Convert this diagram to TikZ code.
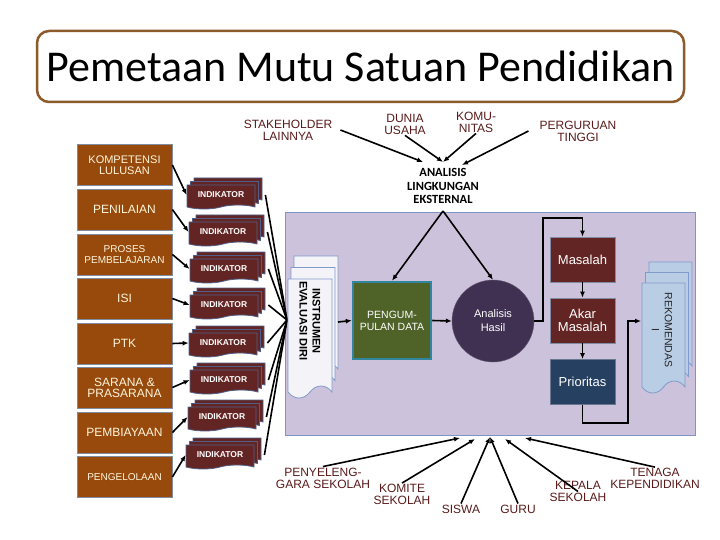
\documentclass[tikz,border=0pt]{standalone}
\usepackage{fontspec}
\setmainfont{Liberation Sans}
\newfontfamily\titlefont{Carlito}
\usetikzlibrary{arrows.meta,shapes.symbols,shadows}
\definecolor{mapbrown}{HTML}{8C5A2B}
\definecolor{stdbrown}{HTML}{974A0C}
\definecolor{stdedge}{HTML}{7F8CA3}
\definecolor{stdtext}{HTML}{FFF6DC}
\definecolor{indred}{HTML}{632523}
\definecolor{indedge}{HTML}{4F5F8A}
\definecolor{panelfill}{HTML}{CCC2DB}
\definecolor{paneledge}{HTML}{8094C4}
\definecolor{docfill}{HTML}{F3F3F8}
\definecolor{docedge}{HTML}{7F9ACB}
\definecolor{pdgreen}{HTML}{4F6228}
\definecolor{pdedge}{HTML}{31859C}
\definecolor{ahpurple}{HTML}{403152}
\definecolor{priblue}{HTML}{254061}
\definecolor{rekfill}{HTML}{B9CDE5}
\definecolor{labink}{HTML}{5A1A1A}

\tikzset{
  arr/.style={line width=1.6pt,-{Latex[length=6pt,width=5pt]}},
  fanline/.style={line width=1.6pt},
  stdbox/.style={draw=stdedge,line width=.8pt,fill=stdbrown,text=stdtext,
    minimum width=95pt,minimum height=41pt,inner sep=1pt,align=center},
  indbox/.style={shape=tape,tape bend top=none,tape bend bottom=in and out,
    tape bend height=4pt,draw=indedge,line width=.8pt,fill=indred,text=white,
    minimum width=68pt,minimum height=24pt,inner sep=1pt,
    font=\bfseries\fontsize{8.5}{8.5}\selectfont,
    double copy shadow={shadow xshift=3.5pt,shadow yshift=3.5pt}},
  docbox/.style={shape=tape,tape bend top=none,tape bend bottom=in and out,
    tape bend height=12pt,draw=docedge,line width=.8pt,inner sep=0pt},
  labtext/.style={text=labink,align=center,inner sep=1pt,
    font=\fontsize{12}{12}\selectfont},
  stepbox/.style={draw=stdedge,line width=.6pt,text=white,minimum width=65pt,
    minimum height=45pt,inner sep=1pt,align=center,
    font=\fontsize{13}{12.5}\selectfont}
}

\begin{document}
\begin{tikzpicture}[x=1pt,y=-1pt]
  \useasboundingbox (0,0) rectangle (720,540);
  % title
  \node[draw=mapbrown,line width=2.5pt,rounded corners=12pt,fill=white,
    minimum width=647pt,minimum height=71pt,
    font=\titlefont\fontsize{44}{44}\selectfont] (title) at (360.5,66.5)
    {Pemetaan Mutu Satuan Pendidikan};
  % panel
  \draw[draw=paneledge,fill=panelfill,line width=.8pt] (285,212) rectangle (695,435);
  % standards and indicators
  \foreach \i/\yy/\fs/\txt in {1/165/11/{KOMPETENSI\\LULUSAN},2/209.5/12/PENILAIAN,
      3/254.5/10/{PROSES\\PEMBELAJARAN},4/298.5/12/ISI,5/343.5/12/PTK,
      6/387.5/12/{SARANA \&\\PRASARANA},7/432.5/12/PEMBIAYAAN,8/477/10/PENGELOLAAN}
    \node[stdbox,font=\fontsize{\fs}{11}\selectfont] (std\i) at (124.5,\yy) {\txt};
  \foreach \i/\xx/\yy in {1/221/195,2/223/232,3/224/269,4/224/305,
      5/223/343,6/224/380,7/222/417,8/220/455}
    \node[indbox] (ind\i) at (\xx,\yy) {INDIKATOR};
  \coordinate (fan) at (287,320);
  \foreach \i in {1,...,8} {
    \draw[arr] (std\i.east) -- (ind\i.west);
    \draw[fanline] ([xshift=10pt]ind\i.east) -- (fan);
  }
  % instrument
  \node[docbox,fill=docfill,minimum width=44pt,minimum height=119pt,
    double copy shadow={shadow xshift=3pt,shadow yshift=11.5pt}] (instr) at (310,332.5) {};
  \node[rotate=-90,align=center,inner sep=0pt,
    font=\bfseries\fontsize{11}{13}\selectfont] (instrtext) at (310,321)
    {INSTRUMEN\\EVALUASI DIRI};
  \coordinate (insOut) at (338,322);
  % analysis chain
  \node[draw=pdedge,line width=2.5pt,fill=pdgreen,text=white,minimum width=78pt,
    minimum height=77pt,align=center,font=\fontsize{10.5}{12}\selectfont] (pd) at (392,320.5)
    {PENGUM-\\PULAN DATA};
  \node[circle,fill=ahpurple,draw=ahpurple!80!white,minimum size=82pt,inner sep=0pt,
    text=white,align=center,font=\fontsize{11}{14}\selectfont] (ah) at (493,321)
    {Analisis\\Hasil};
  \node[stepbox,fill=indred] (mas) at (582.5,259.5) {Masalah};
  \node[stepbox,fill=indred] (akar) at (582.5,320.5) {Akar\\Masalah};
  \node[stepbox,fill=priblue,draw=priblue!70!white] (pri) at (582.5,382) {Prioritas};
  \node[docbox,fill=rekfill,minimum width=43pt,minimum height=110pt,
    double copy shadow={shadow xshift=3.5pt,shadow yshift=10.5pt}] (rek) at (663.5,332) {};
  \node[rotate=-90,align=center,inner sep=0pt,text=black!85,
    font=\fontsize{10.5}{13}\selectfont] (rektext) at (662,330) {REKOMENDAS\\I};
  \coordinate (loopUp) at (543,218);
  \coordinate (loopDown) at (628,423);
  \coordinate (rekIn) at (641,321);
  \draw[arr] (insOut) -- (pd.west);
  \draw[arr] (pd.east) -- (ah.west);
  \draw[arr,line width=1.4pt] (ah.east) -| (loopUp) -| (mas.north);
  \draw[arr,line width=1.4pt] (mas.south) -- (akar.north);
  \draw[arr,line width=1.4pt] (akar.south) -- (pri.north);
  \draw[arr,line width=1.4pt] (pri.south) |- (loopDown) |- (rekIn);
  % external environment
  \node[labtext] (stake) at (288,130) {STAKEHOLDER\\LAINNYA};
  \node[labtext] (dunia) at (405,124) {DUNIA\\USAHA};
  \node[labtext] (komu) at (476,122) {KOMU-\\NITAS};
  \node[labtext] (pt) at (578,131) {PERGURUAN\\TINGGI};
  \node[align=center,inner sep=1pt,
    font=\titlefont\bfseries\fontsize{12.5}{13.5}\selectfont] (ale) at (443,186)
    {ANALISIS\\LINGKUNGAN\\EKSTERNAL};
  \coordinate (aleA) at (423,162);
  \coordinate (aleIn) at (443,162);
  \coordinate (aleB) at (462,165);
  \coordinate (aleOut) at (443,211);
  \draw[arr] ([xshift=7pt]stake.east) -- (aleA);
  \draw[arr] (dunia.south) -- (aleIn);
  \draw[arr] (komu.south) -- (aleIn);
  \draw[arr] ([xshift=-10pt]pt.west) -- (aleB);
  \draw[arr] (aleOut) -- (pd.north);
  \draw[arr] (aleOut) -- (ah.north);
  % school community
  \node[labtext] (pen) at (323,478) {PENYELENG-\\GARA SEKOLAH};
  \node[labtext] (kom) at (402,494.5) {KOMITE\\SEKOLAH};
  \node[labtext] (sis) at (461,509) {SISWA};
  \node[labtext] (guru) at (518,509) {GURU};
  \node[labtext] (kep) at (578,491.5) {KEPALA\\SEKOLAH};
  \node[labtext] (ten) at (655,478.5) {TENAGA\\KEPENDIDIKAN};
  \coordinate (bot1) at (460,438);
  \coordinate (bot2) at (475,439);
  \coordinate (bot3) at (490,437);
  \coordinate (bot4) at (505,439);
  \coordinate (bot5) at (525,438);
  \draw[arr] (pen.north) -- (bot1);
  \draw[arr] (kom.north) -- (bot2);
  \draw[arr] (sis.north) -- (bot3);
  \draw[arr] (guru.north) -- (bot3);
  \draw[arr] (kep.center) -- (bot4);
  \draw[arr] (ten.north) -- (bot5);
\end{tikzpicture}
\end{document}
